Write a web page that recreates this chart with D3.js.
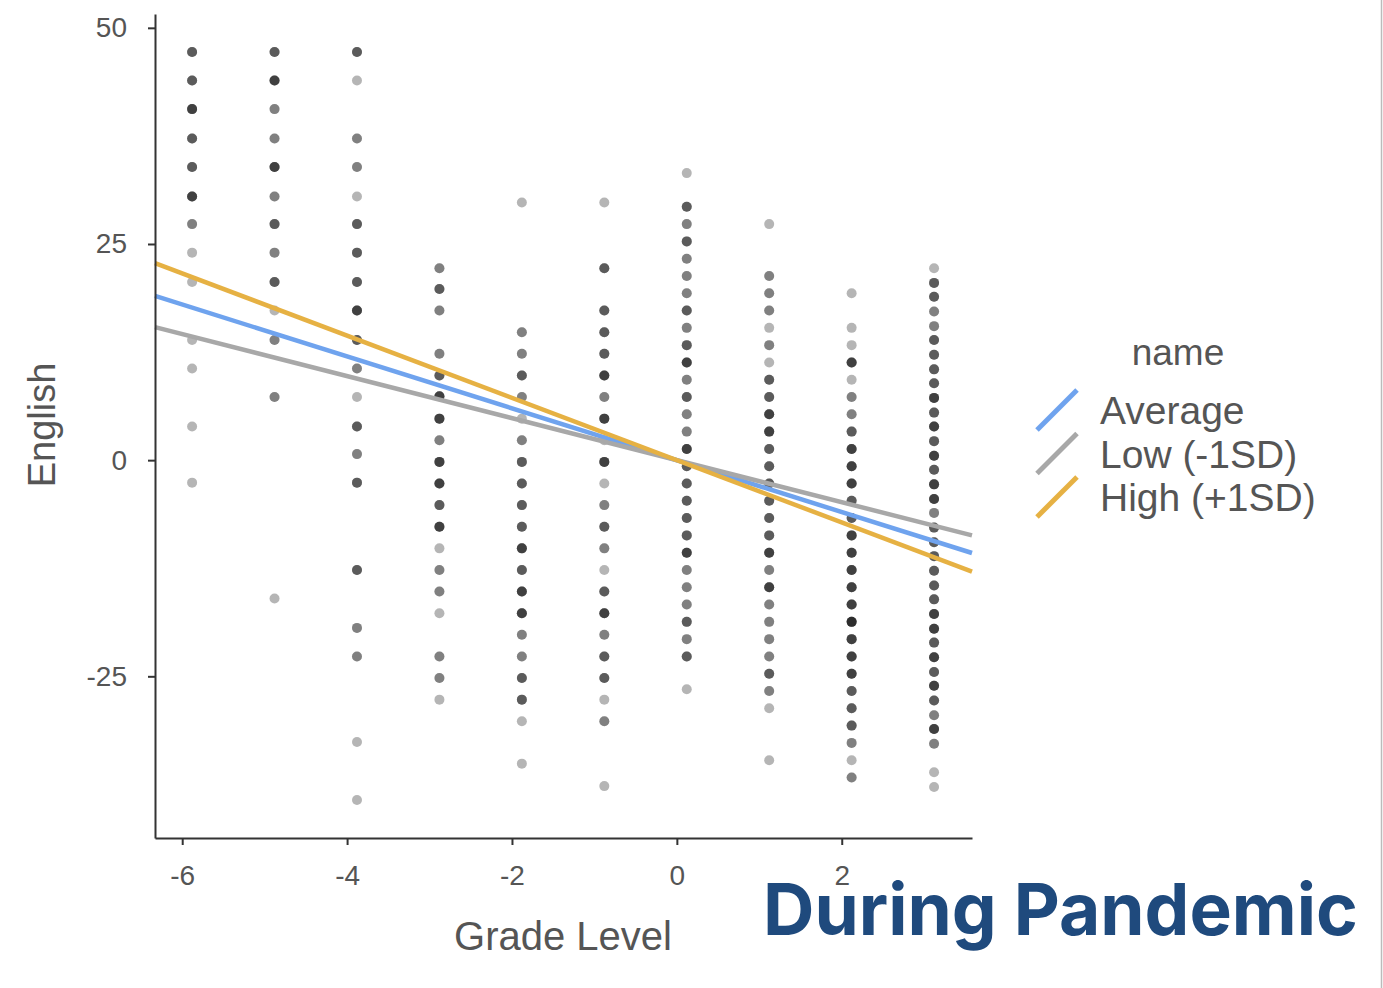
<!DOCTYPE html>
<html>
<head>
<meta charset="utf-8">
<script src="https://cdn.jsdelivr.net/npm/d3@7"></script>
<style>
  html, body { margin: 0; padding: 0; background: #fff; }
  svg { display: block; }
</style>
</head>
<body>
<svg id="chart" width="1383" height="988"></svg>
<script>
// centred grade level of each column of points
const grades = [-5.88, -4.88, -3.88, -2.88, -1.88, -0.88, 0.12, 1.12, 2.12, 3.12];

// English scores per grade column
const scores = [
  [47.2, 43.9, 40.6, 37.2, 33.9, 30.5, 27.3, 24.0, 20.6, 13.9, 10.6, 3.9, -2.6],
  [47.2, 43.9, 40.6, 37.2, 33.9, 30.5, 27.3, 24.0, 20.6, 17.3, 13.9, 7.3, -16.0],
  [47.2, 43.9, 37.2, 33.9, 30.5, 27.3, 24.0, 20.6, 17.3, 13.9, 10.6, 7.3, 3.9, 0.7, -2.6, -12.7, -19.4, -22.7, -32.6, -39.3],
  [22.2, 19.8, 17.3, 12.3, 9.8, 7.4, 4.8, 2.3, -0.2, -2.7, -5.2, -7.7, -10.2, -12.7, -15.2, -17.7, -22.7, -25.2, -27.7],
  [29.8, 14.8, 12.3, 9.8, 7.3, 4.8, 2.3, -0.2, -2.7, -5.2, -7.7, -10.2, -12.7, -15.2, -17.7, -20.2, -22.7, -25.2, -27.7, -30.2, -35.1],
  [29.8, 22.2, 17.3, 14.8, 12.3, 9.8, 7.3, 4.8, 2.3, -0.2, -2.7, -5.2, -7.7, -10.2, -12.7, -15.2, -17.7, -20.2, -22.7, -25.2, -27.7, -30.2, -37.7],
  [33.2, 29.3, 27.3, 25.3, 23.3, 21.3, 19.3, 17.3, 15.3, 13.3, 11.3, 9.3, 7.3, 5.3, 3.3, 1.3, -0.7, -2.7, -4.7, -6.7, -8.7, -10.7, -12.7, -14.7, -16.7, -18.7, -20.7, -22.7, -26.5],
  [27.3, 21.3, 19.3, 17.3, 15.3, 13.3, 11.3, 9.3, 7.3, 5.3, 3.3, 1.3, -0.7, -2.7, -4.7, -6.7, -8.7, -10.7, -12.7, -14.7, -16.7, -18.7, -20.7, -22.7, -24.7, -26.7, -28.7, -34.7],
  [19.3, 15.3, 13.3, 11.3, 9.3, 7.3, 5.3, 3.3, 1.3, -0.7, -2.7, -4.7, -6.7, -8.7, -10.7, -12.7, -14.7, -16.7, -18.7, -20.7, -22.7, -24.7, -26.7, -28.7, -30.7, -32.7, -34.7, -36.7],
  [22.2, 20.5, 18.9, 17.2, 15.5, 13.9, 12.2, 10.5, 8.9, 7.2, 5.5, 3.9, 2.2, 0.5, -1.1, -2.8, -4.5, -6.1, -7.8, -9.5, -11.1, -12.8, -14.5, -16.1, -17.8, -19.5, -21.1, -22.8, -24.5, -26.1, -27.8, -29.5, -31.1, -32.8, -36.1, -37.8]
];

// how many students share each point (darker = more overlap)
const counts = [
  [3, 3, 4, 3, 3, 4, 2, 1, 1, 1, 1, 1, 1],
  [3, 4, 2, 2, 4, 2, 3, 2, 3, 1, 2, 2, 1],
  [3, 1, 2, 2, 1, 3, 3, 3, 4, 3, 2, 1, 3, 2, 3, 3, 2, 2, 1, 1],
  [2, 3, 2, 2, 3, 4, 4, 2, 4, 4, 3, 4, 1, 2, 2, 1, 2, 2, 1],
  [1, 2, 2, 3, 2, 1, 2, 3, 3, 3, 3, 4, 3, 4, 4, 2, 2, 3, 3, 1, 1],
  [1, 3, 3, 3, 3, 4, 2, 4, 1, 4, 1, 2, 3, 2, 1, 3, 4, 2, 3, 3, 1, 2, 1],
  [1, 3, 2, 3, 2, 2, 2, 3, 2, 3, 4, 2, 3, 2, 2, 4, 3, 3, 3, 3, 3, 4, 2, 2, 2, 3, 2, 3, 1],
  [1, 2, 2, 2, 1, 2, 1, 3, 3, 4, 4, 3, 3, 3, 3, 3, 3, 4, 2, 4, 2, 2, 2, 2, 3, 2, 1, 1],
  [1, 1, 1, 4, 1, 2, 2, 3, 4, 4, 4, 3, 3, 4, 4, 4, 4, 4, 5, 4, 4, 4, 3, 3, 3, 2, 1, 2],
  [1, 3, 3, 2, 2, 3, 3, 3, 3, 4, 3, 4, 3, 4, 3, 4, 4, 2, 3, 3, 3, 3, 3, 3, 4, 4, 3, 4, 3, 4, 3, 2, 4, 2, 1, 1]
];

// simple slopes of English on grade for each moderator level
const lineNames = ['Average', 'Low (-1SD)', 'High (+1SD)'];
const lineSlopes = [-3.0, -2.43, -3.6];
const lineIntercepts = [0, 0, 0];
const lineColors = ['#6fa3ee', '#a8a8a8', '#e6b143'];

const xTicks = [-6, -4, -2, 0, 2];
const yTicks = [-25, 0, 25, 50];

const svg = d3.select('#chart');
const fontFamily = '"Liberation Sans", Arial, sans-serif';

const x = d3.scaleLinear().domain([-6.33, 3.58]).range([155, 972]);
const y = d3.scaleLinear().domain([-43.7, 51.6]).range([838, 14]);

// points, one circle per student so overlaps get darker
const points = [];
grades.forEach((g, i) => {
    scores[i].forEach((s, j) => {
        for (let k = 0; k < counts[i][j]; k++) points.push({ g: g, s: s });
    });
});

svg.append('g')
    .selectAll('circle')
    .data(points)
    .enter()
    .append('circle')
    .attr('cx', d => x(d.g))
    .attr('cy', d => y(d.s))
    .attr('r', 5)
    .attr('fill', '#000')
    .attr('fill-opacity', 0.29);

// regression lines
const xDom = x.domain();
svg.append('g')
    .selectAll('line')
    .data(lineNames.map((n, i) => ({ name: n, b: lineSlopes[i], a: lineIntercepts[i], color: lineColors[i] })))
    .enter()
    .append('line')
    .attr('x1', x(xDom[0]))
    .attr('x2', x(xDom[1]))
    .attr('y1', d => y(d.a + d.b * xDom[0]))
    .attr('y2', d => y(d.a + d.b * xDom[1]))
    .attr('stroke', d => d.color)
    .attr('stroke-width', 4.5);

// axes
const xAxis = svg.append('g')
    .attr('transform', `translate(0,${y(y.domain()[0])})`)
    .call(d3.axisBottom(x).tickValues(xTicks).tickSizeInner(7).tickSizeOuter(0).tickPadding(20).tickFormat(d3.format('d')));

const yAxis = svg.append('g')
    .attr('transform', `translate(${x(x.domain()[0])},0)`)
    .call(d3.axisLeft(y).tickValues(yTicks).tickSizeInner(7).tickSizeOuter(0).tickPadding(21).tickFormat(d3.format('d')));

[xAxis, yAxis].forEach(a => {
    a.select('.domain').attr('stroke', '#333').attr('stroke-width', 2);
    a.selectAll('.tick line').attr('stroke', '#333').attr('stroke-width', 2);
    a.selectAll('.tick text')
        .attr('fill', '#555')
        .style('font-family', fontFamily)
        .style('font-size', '28px');
});
xAxis.selectAll('.tick text').text(d => d < 0 ? '-' + Math.abs(d) : d);
yAxis.selectAll('.tick text').text(d => d < 0 ? '-' + Math.abs(d) : d);

// axis titles
svg.append('text')
    .attr('x', 563)
    .attr('y', 950)
    .attr('text-anchor', 'middle')
    .attr('fill', '#555')
    .style('font-family', fontFamily)
    .style('font-size', '40px')
    .text('Grade Level');

svg.append('text')
    .attr('transform', 'translate(55,425) rotate(-90)')
    .attr('text-anchor', 'middle')
    .attr('fill', '#555')
    .style('font-family', fontFamily)
    .style('font-size', '38px')
    .text('English');

// legend
const legend = svg.append('g').attr('transform', 'translate(1035,0)');
legend.append('text')
    .attr('x', 143)
    .attr('y', 365)
    .attr('text-anchor', 'middle')
    .attr('fill', '#555')
    .style('font-family', fontFamily)
    .style('font-size', '37px')
    .text('name');

const items = legend.selectAll('g.item')
    .data(lineNames)
    .enter()
    .append('g')
    .attr('class', 'item')
    .attr('transform', (d, i) => `translate(0,${410 + i * 43.5})`);

items.append('line')
    .attr('x1', 2).attr('y1', 20)
    .attr('x2', 42).attr('y2', -20)
    .attr('stroke', (d, i) => lineColors[i])
    .attr('stroke-width', 5);

items.append('text')
    .attr('x', 65)
    .attr('y', 14)
    .attr('fill', '#555')
    .style('font-family', fontFamily)
    .style('font-size', '39px')
    .text(d => d);

// title
svg.append('text')
    .attr('x', 763)
    .attr('y', 935)
    .attr('fill', '#1f4a7d')
    .attr('textLength', 595)
    .attr('lengthAdjust', 'spacingAndGlyphs')
    .style('font-family', 'Inter, "Open Sans", sans-serif')
    .style('font-weight', 700)
    .style('font-size', '72px')
    .text('During Pandemic');

// thin frame on the right side
svg.append('line')
    .attr('x1', 1381.5).attr('x2', 1381.5)
    .attr('y1', 0).attr('y2', 988)
    .attr('stroke', '#bbb')
    .attr('stroke-width', 1.5);
</script>
</body>
</html>
